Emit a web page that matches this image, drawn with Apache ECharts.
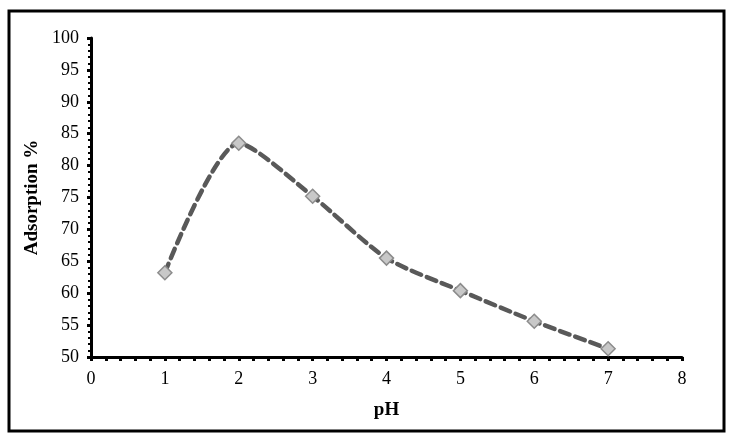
<!DOCTYPE html>
<html><head><meta charset="utf-8">
<script src="https://cdn.jsdelivr.net/npm/echarts@6/dist/echarts.min.js"></script>
<style>html,body{margin:0;padding:0;background:#fff}#c{width:734px;height:442px}</style>
</head><body><div id="c"></div>
<script>
var phValues = [1, 2, 3, 4, 5, 6, 7];
var adsorption = [63.2, 83.5, 75.2, 65.5, 60.4, 55.6, 51.3];
var xTicks = {min: 0, max: 8, interval: 1};
var yTicks = {min: 50, max: 100, interval: 5};

var chart = echarts.init(document.getElementById('c'));
var font = 'Liberation Serif';
chart.setOption({
  animation: false,
  backgroundColor: '#fff',
  graphic: [{
    type: 'rect', shape: {x: 9, y: 11, width: 715, height: 420},
    style: {fill: 'none', stroke: '#000', lineWidth: 3}
  }],
  grid: {left: 91, right: 52, top: 38, bottom: 85},
  xAxis: {
    type: 'value', min: xTicks.min, max: xTicks.max, interval: xTicks.interval,
    name: 'pH', nameLocation: 'middle', nameGap: 44,
    nameTextStyle: {fontFamily: font, fontWeight: 'bold', fontSize: 19, color: '#000'},
    axisLine: {show: true, onZero: false, lineStyle: {color: '#000', width: 3}},
    axisTick: {show: true, length: 4, lineStyle: {color: '#000', width: 3}},
    minorTick: {show: true, splitNumber: 5, length: 4, lineStyle: {color: '#000', width: 3}},
    axisLabel: {fontFamily: font, fontSize: 18, color: '#000', margin: 13},
    splitLine: {show: false}
  },
  yAxis: {
    type: 'value', min: yTicks.min, max: yTicks.max, interval: yTicks.interval,
    name: 'Adsorption %', nameLocation: 'middle', nameGap: 48,
    nameTextStyle: {fontFamily: font, fontWeight: 'bold', fontSize: 19, color: '#000'},
    axisLine: {show: true, onZero: false, lineStyle: {color: '#000', width: 3}},
    axisTick: {show: true, length: 4, lineStyle: {color: '#000', width: 3}},
    minorTick: {show: true, splitNumber: 5, length: 3, lineStyle: {color: '#000', width: 2}},
    axisLabel: {fontFamily: font, fontSize: 18, color: '#000', margin: 12},
    splitLine: {show: false}
  },
  series: [{
    type: 'line', smooth: 0.25,
    data: phValues.map(function (x, i) { return [x, adsorption[i]]; }),
    symbol: 'diamond', symbolSize: 14,
    itemStyle: {color: '#c8c8c8', borderColor: '#8c8c8c', borderWidth: 1.5},
    lineStyle: {color: '#595959', width: 4.5, type: [10, 6], cap: 'round'}
  }]
});
</script></body></html>
